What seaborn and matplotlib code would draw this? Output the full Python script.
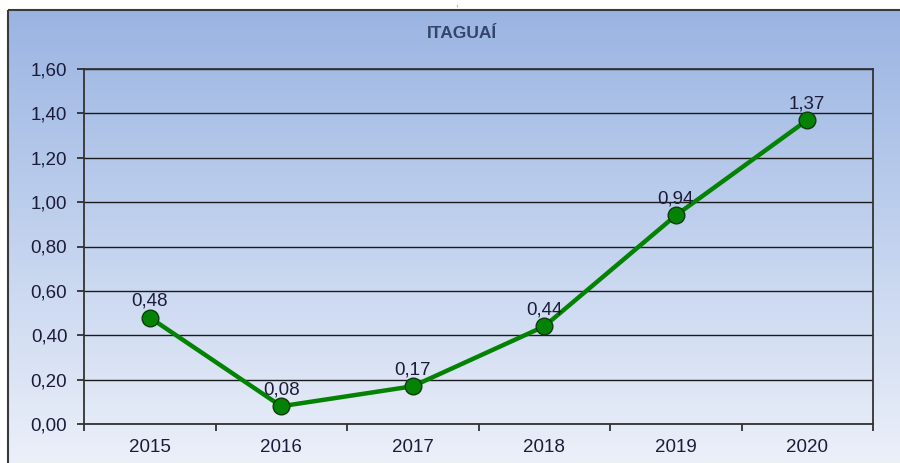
import numpy as np
import pandas as pd
import matplotlib
matplotlib.use("Agg")
import matplotlib.pyplot as plt
from matplotlib.colors import LinearSegmentedColormap
from matplotlib.patches import Rectangle
import seaborn as sns

# Data
years = ["2015", "2016", "2017", "2018", "2019", "2020"]
values = [0.48, 0.08, 0.17, 0.44, 0.94, 1.37]
y_ticks = [0.0, 0.2, 0.4, 0.6, 0.8, 1.0, 1.2, 1.4, 1.6]
title = "ITAGUAÍ"

df = pd.DataFrame({"ano": years, "valor": values})

sns.set_theme(style="white")
plt.rcParams["font.family"] = ["Liberation Sans", "DejaVu Sans"]

W, H = 900, 463
fig = plt.figure(figsize=(W / 100, H / 100), dpi=100)
fig.patch.set_facecolor("white")

# Gradient panel behind the chart
bg = fig.add_axes([0, 0, 1, 1], zorder=-5)
bg.set_xlim(0, W)
bg.set_ylim(H, 0)
bg.axis("off")
cmap = LinearSegmentedColormap.from_list("panel", ["#9ab4e2", "#c2d2ee", "#ecf0f9"])
grad = np.linspace(0, 1, 256).reshape(-1, 1)
bg.imshow(grad, cmap=cmap, aspect="auto", extent=[8, W + 2, H + 2, 10], zorder=0)
bg.add_patch(Rectangle((8, 10), W, H, fill=False, edgecolor="#3a3a3a", lw=1.5, zorder=1))
bg.text(456, 4, ",", ha="center", va="center", fontsize=7, color="#b07020")
bg.text(462, 33, title, ha="center", va="center", fontsize=12.5, fontweight="bold",
        color="#34446a", family=["Liberation Sans Narrow", "Liberation Sans", "DejaVu Sans"])

# Main plot area
ax = fig.add_axes([84 / W, 1 - 424 / H, (873 - 84) / W, (424 - 69) / H])
ax.set_facecolor("none")

sns.lineplot(data=df, x="ano", y="valor", ax=ax, color="#038203", lw=3.2,
             marker="o", markersize=12, markerfacecolor="#038203",
             markeredgecolor="#0d3d0d", markeredgewidth=1.0, zorder=5)

ax.set_xlim(-0.5, len(years) - 0.5)
ax.set_ylim(0, 1.6)
ax.set_yticks(y_ticks)
ax.set_yticklabels([f"{v:.2f}".replace(".", ",") for v in y_ticks])
ax.set_xticks(range(len(years)))
ax.set_xticklabels(years)
ax.set_xticks(np.arange(-0.5, len(years), 1), minor=True)
ax.tick_params(axis="x", which="major", length=0, pad=11, labelsize=13.5, colors="#1c1c3a")
ax.tick_params(axis="x", which="minor", length=5, width=1.2, color="#222222", bottom=True)
ax.tick_params(axis="y", length=5, width=1.2, color="#222222", left=True, pad=7,
               labelsize=13.5, labelcolor="#1c1c3a")
ax.set_xlabel("")
ax.set_ylabel("")
ax.grid(axis="y", color="#1a1a1a", lw=1.0)
ax.grid(axis="x", visible=False)
for s in ax.spines.values():
    s.set_visible(True)
    s.set_color("#333333")
    s.set_linewidth(1.3)

for i, v in enumerate(values):
    ax.annotate(f"{v:.2f}".replace(".", ","), (i, v), xytext=(0, 5.5),
                textcoords="offset points", ha="center", va="bottom",
                fontsize=13.5, color="#1c1c3a", zorder=6)

fig.savefig("out.png", dpi=100)
